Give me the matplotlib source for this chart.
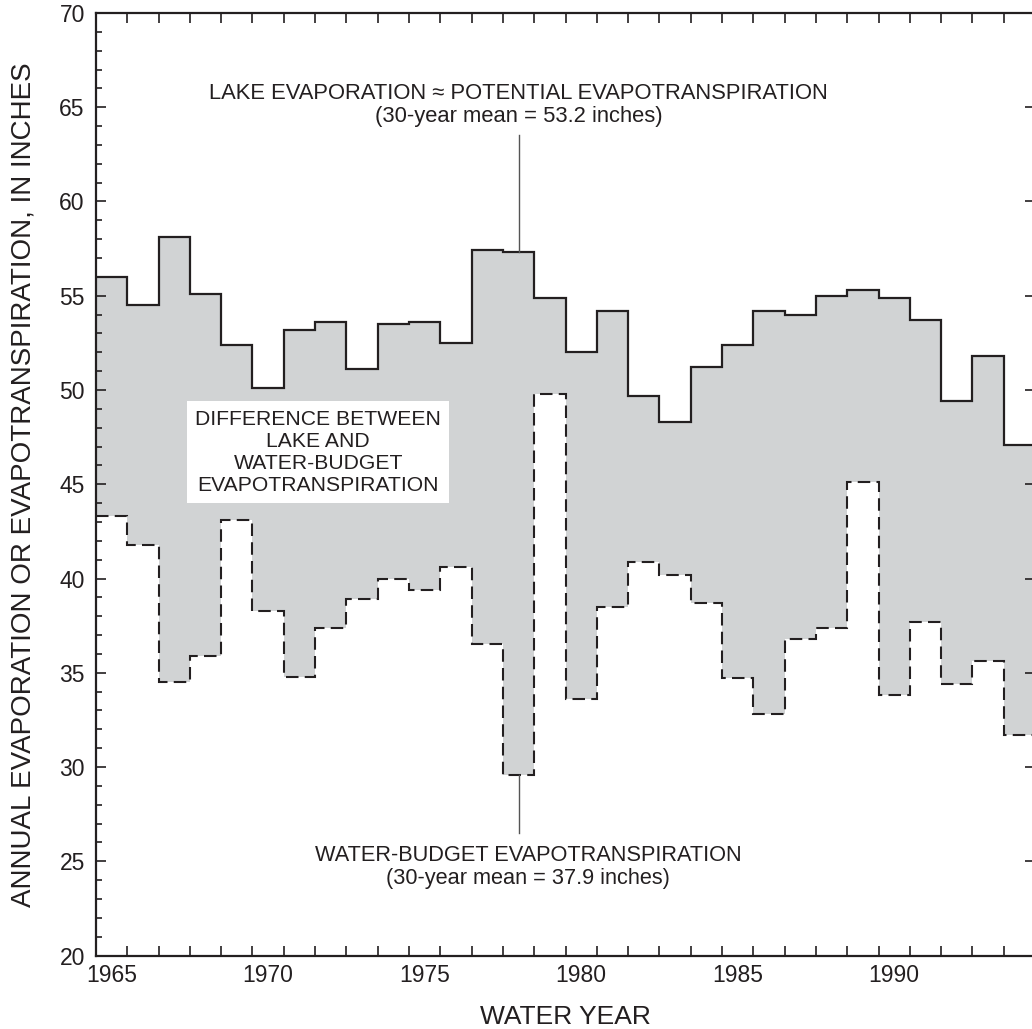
import numpy as np
import matplotlib
matplotlib.use("Agg")
import matplotlib.pyplot as plt
from matplotlib.ticker import MultipleLocator, FixedLocator

plt.rcParams['font.family'] = ['Liberation Sans', 'DejaVu Sans']

# Water years 1965-1994
years = np.arange(1965, 1995)
lake_evap = [56.0, 54.5, 58.1, 55.1, 52.4, 50.1, 53.2, 53.6, 51.1, 53.5,
             53.6, 52.5, 57.4, 57.3, 54.9, 52.0, 54.2, 49.7, 48.3, 51.2,
             52.4, 54.2, 54.0, 55.0, 55.3, 54.9, 53.7, 49.4, 51.8, 47.1]
budget_et = [43.3, 41.8, 34.5, 35.9, 43.1, 38.3, 34.8, 37.4, 38.9, 40.0,
             39.4, 40.6, 36.5, 29.6, 49.8, 33.6, 38.5, 40.9, 40.2, 38.7,
             34.7, 32.8, 36.8, 37.4, 45.1, 33.8, 37.7, 34.4, 35.6, 31.7]
label_years = [1965, 1970, 1975, 1980, 1985, 1990]

ink = '#231f20'
edges = np.append(years - 0.5, years[-1] + 0.5)

fig = plt.figure(figsize=(10.32, 10.29), dpi=100)
ax = fig.add_axes([0.093, 0.0714, 0.910, 0.916])

# shaded difference between the two series
ax.stairs(lake_evap, edges, baseline=budget_et, fill=True,
          color='#d1d3d4', linewidth=0)
ax.stairs(lake_evap, edges, baseline=None, color=ink, linewidth=1.6)
ax.stairs(budget_et, edges, baseline=None, color=ink, linewidth=1.5,
          linestyle=(0, (6, 3)))

ax.set_xlim(edges[0], edges[-1])
ax.set_ylim(20, 70)

# year labels sit mid-interval, ticks mark the year boundaries
ax.xaxis.set_major_locator(FixedLocator(label_years))
ax.xaxis.set_minor_locator(FixedLocator(edges[1:-1]))
ax.tick_params(axis='x', which='major', length=0, labelsize=16.5, pad=6,
               colors=ink)
ax.tick_params(axis='x', which='minor', direction='in', length=7,
               width=1.2, top=True, bottom=True, color=ink)

ax.yaxis.set_major_locator(MultipleLocator(5))
ax.yaxis.set_minor_locator(MultipleLocator(1))
ax.tick_params(axis='y', which='major', direction='in', length=7.5,
               width=1.2, left=True, right=True, labelsize=16.5, pad=8,
               colors=ink)
ax.tick_params(axis='y', which='minor', direction='in', length=4,
               width=1.2, left=True, right=False, color=ink)

for s in ax.spines.values():
    s.set_linewidth(1.6)
    s.set_color(ink)

ax.set_xlabel('WATER YEAR', fontsize=19, color=ink, va='center')
ax.xaxis.set_label_coords(0.5, -0.065)
ax.set_ylabel('ANNUAL EVAPORATION OR EVAPOTRANSPIRATION, IN INCHES',
              fontsize=20, color=ink, va='center')
ax.yaxis.set_label_coords(-0.077, 0.5)

# callouts
ax.plot([1978, 1978], [63.5, 57.3], color='#555555', linewidth=1)
ax.plot([1978, 1978], [29.6, 26.5], color='#555555', linewidth=1)

ax.text(1978, 65.13,
        'LAKE EVAPORATION \u2248 POTENTIAL EVAPOTRANSPIRATION\n'
        '(30-year mean = 53.2 inches)',
        ha='center', va='center', fontsize=15.8, color=ink, linespacing=1.1)
ax.text(1978.3, 24.7,
        'WATER-BUDGET EVAPOTRANSPIRATION\n(30-year mean = 37.9 inches)',
        ha='center', va='center', fontsize=15.7, color=ink, linespacing=1.1)
ax.text(1971.6, 46.7,
        'DIFFERENCE BETWEEN\nLAKE AND\nWATER-BUDGET\nEVAPOTRANSPIRATION',
        ha='center', va='center', fontsize=15.2, color=ink, linespacing=1.2,
        bbox=dict(facecolor='white', edgecolor='none', pad=6))

fig.savefig('out.png', dpi=100)
